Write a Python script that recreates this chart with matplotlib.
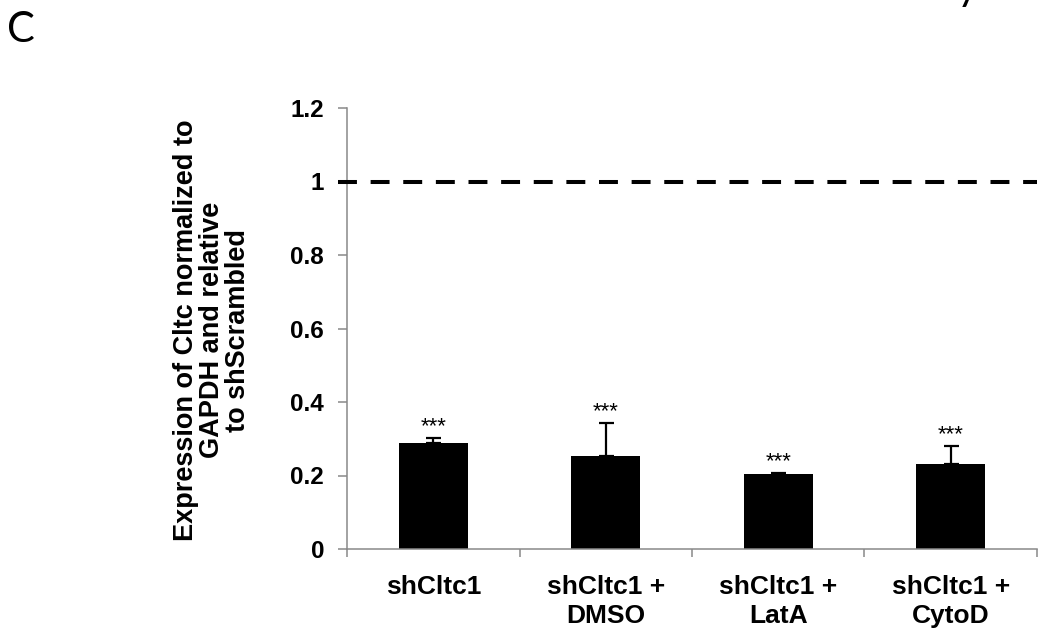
import matplotlib
matplotlib.use("Agg")
import matplotlib.pyplot as plt
import numpy as np

# values
labels = ["shCltc1", "shCltc1 +\nDMSO", "shCltc1 +\nLatA", "shCltc1 +\nCytoD"]
values = [0.289, 0.254, 0.204, 0.230]
err_up = [0.013, 0.089, 0.004, 0.050]
stars = ["***", "***", "***", "***"]
yticks = [0, 0.2, 0.4, 0.6, 0.8, 1.0, 1.2]
ytick_labels = ["0", "0.2", "0.4", "0.6", "0.8", "1", "1.2"]
ref_level = 1.0

plt.rcParams['font.family'] = ['Liberation Sans', 'DejaVu Sans']
spine_col = "#898989"

fig = plt.figure(figsize=(10.38, 6.34), dpi=100)
ax = fig.add_axes([347/1038, 1-549/634, 690/1038, 441/634])

x = np.arange(len(labels))
ax.bar(x, values, width=0.4, color="black", zorder=2)
ax.errorbar(x, values, yerr=[np.zeros(len(values)), err_up], fmt="none",
            ecolor="black", elinewidth=1.6, capsize=5.4, capthick=1.6, zorder=3)

# significance stars above the error bars
for xi, v, e, s in zip(x, values, err_up, stars):
    ax.annotate(s, (xi, v + e), xytext=(0, 8), textcoords="offset points",
                ha="center", va="center", fontsize=16)

# dashed reference line at 1
ax.axhline(ref_level, xmin=-0.013, xmax=1, color="black", lw=2.9,
           dashes=(4.7, 3.4), clip_on=False, zorder=4)

ax.set_xlim(-0.5, len(labels) - 0.5)
ax.set_ylim(0, 1.2)

ax.set_yticks(yticks)
ax.set_yticklabels(ytick_labels, fontsize=17.5, fontweight="bold")
ax.set_xticks(np.arange(-0.5, len(labels)))
ax.set_xticklabels([])
ax.set_xticks(x, minor=True)
ax.set_xticklabels(labels, minor=True, fontsize=19, fontweight="bold",
                   linespacing=1.22)

ax.tick_params(axis="y", which="major", direction="out", length=6.5,
               width=1.1, color=spine_col, pad=10)
ax.tick_params(axis="x", which="major", direction="out", length=6,
               width=1.1, color=spine_col)
ax.tick_params(axis="x", which="minor", length=0, pad=19)

for side in ["top", "right"]:
    ax.spines[side].set_visible(False)
for side in ["left", "bottom"]:
    ax.spines[side].set_color(spine_col)
    ax.spines[side].set_linewidth(1.1)

fig.text(212/1038, 1-330/634,
         "Expression of Cltc normalized to\nGAPDH and relative\nto shScrambled",
         rotation=90, ha="center", va="center", multialignment="center",
         fontsize=19.5, fontweight="bold", linespacing=1.0)

# panel letter and clipped letter from neighbouring panel
fig.text(7/1038, 1-11/634, "C", ha="left", va="top", fontsize=30,
         family=["Lato", "DejaVu Sans"])
fig.text(957/1038, 1.0, "y", ha="left", va="baseline", fontsize=30,
         family=["Lato", "DejaVu Sans"])

fig.savefig("out.png", dpi=100)
